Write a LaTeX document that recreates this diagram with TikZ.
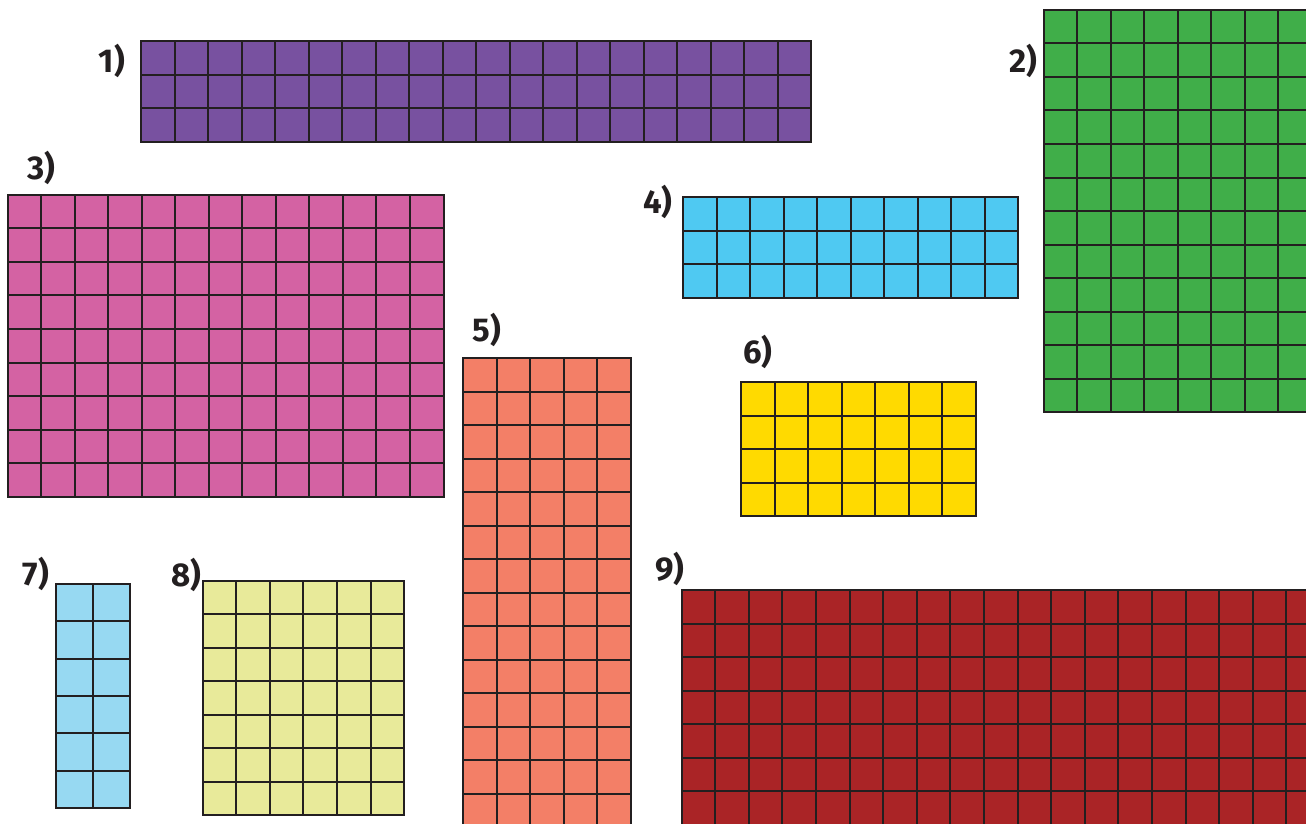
\documentclass[tikz,border=0pt]{standalone}
\usepackage{fontspec}
\setmainfont{Fira Sans}
\definecolor{cPurple}{HTML}{7851A0}
\definecolor{cGreen}{HTML}{40AE49}
\definecolor{cPink}{HTML}{D462A3}
\definecolor{cCyan}{HTML}{4FC9F2}
\definecolor{cSalmon}{HTML}{F37F67}
\definecolor{cYellow}{HTML}{FFDA00}
\definecolor{cLightBlue}{HTML}{97D9F2}
\definecolor{cLime}{HTML}{E8EA9A}
\definecolor{cDarkRed}{HTML}{AA2426}
\definecolor{cLine}{HTML}{231F20}
\newcommand{\mygridbox}[7]{% x0 y0 cols rows cellw cellh colour
  \fill[#7] (#1,#2) rectangle ++(#3*#5,#4*#6);
  \foreach \i in {0,...,#3} \draw[gridline] ({#1+\i*#5},#2) -- ++(0,{#4*#6});
  \foreach \j in {0,...,#4} \draw[gridline] (#1,{#2+\j*#6}) -- ++({#3*#5},0);
}
\begin{document}
\begin{tikzpicture}[x=1pt,y=-1pt,
  gridline/.style={draw=cLine,line width=2pt,line cap=rect},
  lbl/.style={font=\fontsize{33}{38}\selectfont\bfseries,text=cLine,inner sep=0pt,anchor=center}]
\useasboundingbox (0,0) rectangle (1306,824);
\fill[white] (0,0) rectangle (1306,824);
\begin{scope}
\clip (0,0) rectangle (1306,824);
% 1) purple 20x3
\mygridbox{141}{41}{20}{3}{33.5}{33.6}{cPurple}
% 2) green (cut at right)
\mygridbox{1043.5}{10}{9}{12}{33.5}{33.5}{cGreen}
% 3) pink 13x9
\mygridbox{7.5}{194.5}{13}{9}{33.54}{33.6}{cPink}
% 4) cyan 10x3
\mygridbox{683}{197}{10}{3}{33.5}{33.5}{cCyan}
% 5) salmon (cut at bottom)
\mygridbox{463}{358}{5}{14}{33.5}{33.5}{cSalmon}
% 6) yellow 7x4
\mygridbox{741}{382}{7}{4}{33.5}{33.5}{cYellow}
% 7) light blue 2x6
\mygridbox{55.5}{584}{2}{6}{37.3}{37.3}{cLightBlue}
% 8) lime 6x7
\mygridbox{202.5}{580.5}{6}{7}{33.6}{33.55}{cLime}
% 9) dark red (cut at right and bottom)
\mygridbox{681.5}{590}{19}{7}{33.6}{33.5}{cDarkRed}
\end{scope}
\node[lbl] (l1) at (112,61) {1)};
\node[lbl] (l2) at (1023,61) {2)};
\node[lbl] (l3) at (41.5,168) {3)};
\node[lbl] (l4) at (658,202) {4)};
\node[lbl] (l5) at (487,330) {5)};
\node[lbl] (l6) at (758,352) {6)};
\node[lbl] (l7) at (36,574) {7)};
\node[lbl] (l8) at (186,575) {8)};
\node[lbl] (l9) at (670,569) {9)};
\end{tikzpicture}
\end{document}
